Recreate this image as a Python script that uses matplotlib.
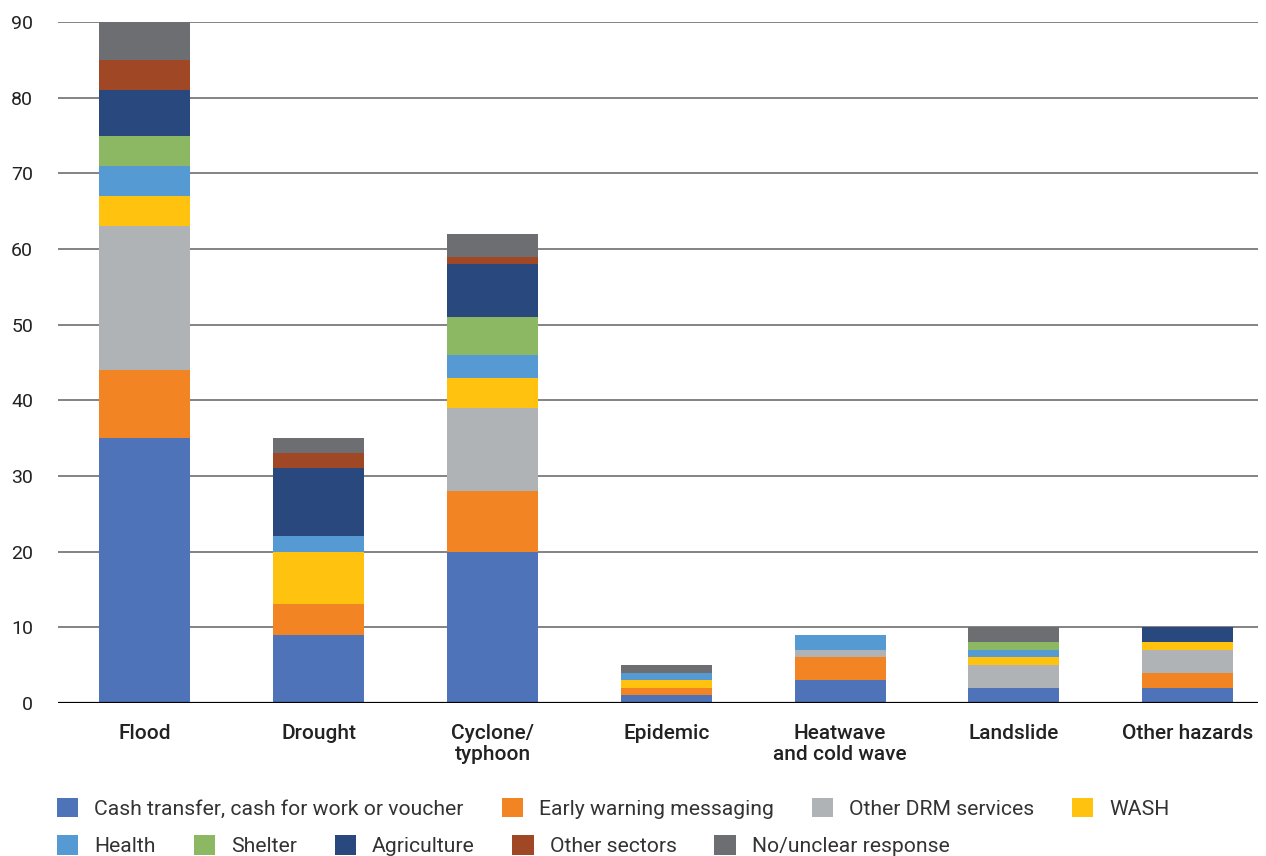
import matplotlib.pyplot as plt
import numpy as np

plt.rcParams['font.family'] = ['Roboto', 'DejaVu Sans']

hazards = ["Flood", "Drought", "Cyclone/\ntyphoon", "Epidemic",
           "Heatwave\nand cold wave", "Landslide", "Other hazards"]

cash = [35, 9, 20, 1, 3, 2, 2]
early_warning = [9, 4, 8, 1, 3, 0, 2]
other_drm = [19, 0, 11, 0, 1, 3, 3]
wash = [4, 7, 4, 1, 0, 1, 1]
health = [4, 2, 3, 1, 2, 1, 0]
shelter = [4, 0, 5, 0, 0, 1, 0]
agriculture = [6, 9, 7, 0, 0, 0, 2]
other_sectors = [4, 2, 1, 0, 0, 0, 0]
no_response = [5, 2, 3, 1, 0, 2, 0]

series = {
    "Cash transfer, cash for work or voucher": cash,
    "Early warning messaging": early_warning,
    "Other DRM services": other_drm,
    "WASH": wash,
    "Health": health,
    "Shelter": shelter,
    "Agriculture": agriculture,
    "Other sectors": other_sectors,
    "No/unclear response": no_response,
}
colors = ["#4E73B9", "#F38423", "#B0B3B6", "#FFC20E", "#559AD3",
          "#8DB863", "#28487E", "#A04825", "#6D6E71"]

fig = plt.figure(figsize=(12.66, 8.56), dpi=100)
ax = fig.add_axes([0.046, 0.179, 0.948, 0.795])

x = np.arange(len(hazards))
width = 0.524
bottom = np.zeros(len(hazards))
handles = []
for (name, vals), c in zip(series.items(), colors):
    bars = ax.bar(x, vals, width, bottom=bottom, color=c, label=name, zorder=3)
    handles.append(bars)
    bottom += np.array(vals)

ax.set_ylim(0, 90)
ax.set_xlim(-0.498, -0.498 + 1200 / 173.8)
ax.set_yticks(np.arange(0, 91, 10))
ax.yaxis.grid(True, color="#7a7a7a", linewidth=1.3, zorder=0)
ax.axhline(0, color="black", linewidth=1.6, zorder=4)
for s in ax.spines.values():
    s.set_visible(False)
ax.tick_params(axis="both", length=0, colors="#222222")
ax.tick_params(axis="y", labelsize=14, pad=18)
ax.set_xticks(x, hazards, fontsize=15, fontweight="medium", linespacing=1.15)
ax.tick_params(axis="x", pad=15)

leg_kw = dict(frameon=False, fontsize=15.2, handlelength=1.0, handleheight=1.05,
              handletextpad=0.76, columnspacing=1.8, borderpad=0,
              borderaxespad=0, loc="center left")
leg1 = fig.legend(handles[:4], list(series)[:4], ncol=4,
                  bbox_to_anchor=(0.045, 0.056), **leg_kw)
leg2 = fig.legend(handles[4:], list(series)[4:], ncol=5,
                  bbox_to_anchor=(0.045, 0.012), **leg_kw)
for t in leg1.get_texts() + leg2.get_texts():
    t.set_color("#333333")

fig.savefig("out.png", dpi=100)
